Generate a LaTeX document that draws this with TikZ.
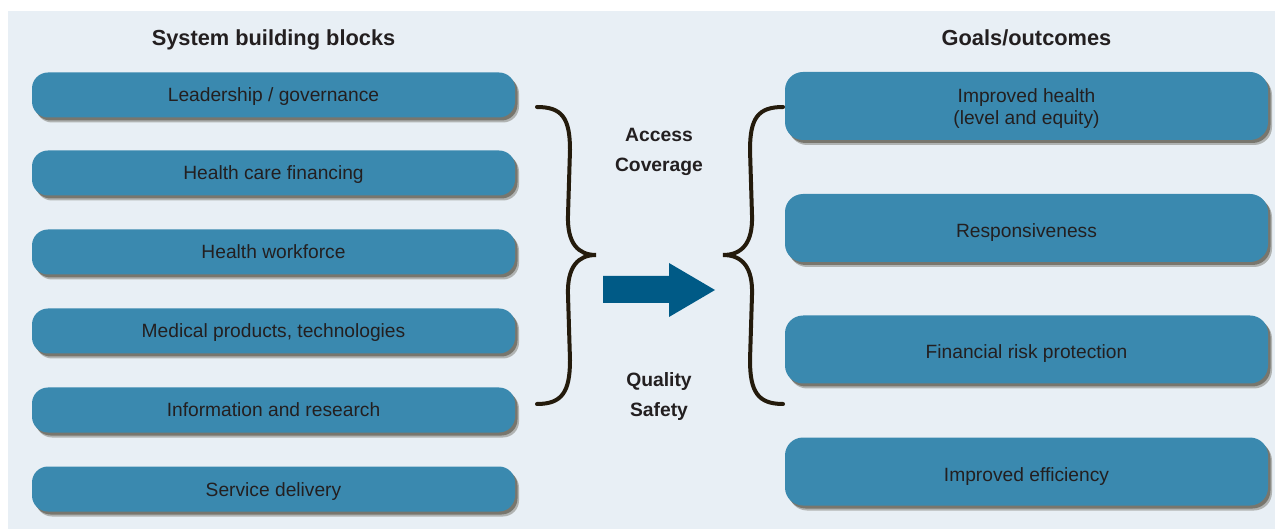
\documentclass[tikz,border=0pt]{standalone}
\usepackage{fontspec}
\setmainfont{Liberation Sans}
\usetikzlibrary{shadows}
\definecolor{panelbg}{HTML}{E8EFF5}
\definecolor{boxblue}{HTML}{3A89AF}
\definecolor{arrowblue}{HTML}{005A86}
\definecolor{inkdark}{HTML}{231F20}
\definecolor{bracebrown}{HTML}{241B0C}
\definecolor{shadowgrey}{HTML}{4A4536}
\tikzset{
  block/.style={rounded corners=16pt, fill=boxblue, text=inkdark, inner sep=0pt,
    minimum width=483pt, minimum height=45pt, align=center,
    text height=15pt, text depth=1pt,
    font=\fontsize{19.2}{22.7}\selectfont,
    drop shadow={shadow xshift=4pt, shadow yshift=-5pt, fill=shadowgrey, opacity=.35},
    drop shadow={shadow xshift=2.5pt, shadow yshift=-3pt, fill=shadowgrey, opacity=.55}},
  goal/.style={block, minimum height=68pt, rounded corners=18pt,
    text height=19pt, text depth=0pt},
  heading/.style={text=inkdark, text height=16pt, text depth=2.5pt,
    font=\fontsize{21.8}{26}\selectfont\bfseries},
  dimension/.style={text=inkdark, align=center, font=\fontsize{19.3}{30}\selectfont\bfseries},
  curly/.style={draw=bracebrown, line width=4pt, line cap=round}
}
\begin{document}
\begin{tikzpicture}[x=1pt,y=-1pt]
    \useasboundingbox (0,0) rectangle (1275,529);
    %% Panel
    \fill[panelbg] (8,11) rectangle (1275,529);
    %% Headings
    \node[heading] (blocks) at (273.5,39) {System building blocks};
    \node[heading] (goals) at (1026.5,39) {Goals/outcomes};
    %% Building blocks
    \node[block] (lead) at (273.5,95) {Leadership / governance};
    \node[block] (fin) at (273.5,173) {Health care financing};
    \node[block] (work) at (273.5,252) {Health workforce};
    \node[block] (med) at (273.5,331) {Medical products, technologies};
    \node[block] (info) at (273.5,410) {Information and research};
    \node[block] (serv) at (273.5,489) {Service delivery};
    %% Goals
    \node[goal, text height=38.6pt, text depth=0.6pt] (health) at (1026.5,106) {Improved health\\(level and equity)};
    \node[goal] (resp) at (1026.5,228) {Responsiveness};
    \node[goal] (risk) at (1026.5,349.5) {Financial risk protection};
    \node[goal] (eff) at (1026.5,471.5) {Improved efficiency};
    %% Braces
    \draw[curly] (537,107) .. controls (562,107) and (570,118) .. (570,150)
        -- (568,215) .. controls (567,243) and (578,255) .. (596,255)
        .. controls (578,255) and (567,267) .. (568,295)
        -- (570,360) .. controls (570,392) and (562,404) .. (537,404);
    \draw[curly] (783,107) .. controls (758,107) and (750,118) .. (750,150)
        -- (752,215) .. controls (753,243) and (742,255) .. (723,255)
        .. controls (742,255) and (753,267) .. (752,295)
        -- (750,360) .. controls (750,392) and (758,404) .. (783,404);
    %% Dimensions
    \node[dimension] (access) at (659,152) {Access\\Coverage};
    \node[dimension] (quality) at (659,397) {Quality\\Safety};
    %% Arrow
    \fill[arrowblue] (603,276) -- (669,276) -- (669,263) -- (715,290)
        -- (669,317) -- (669,303) -- (603,303) -- cycle;
\end{tikzpicture}
\end{document}
